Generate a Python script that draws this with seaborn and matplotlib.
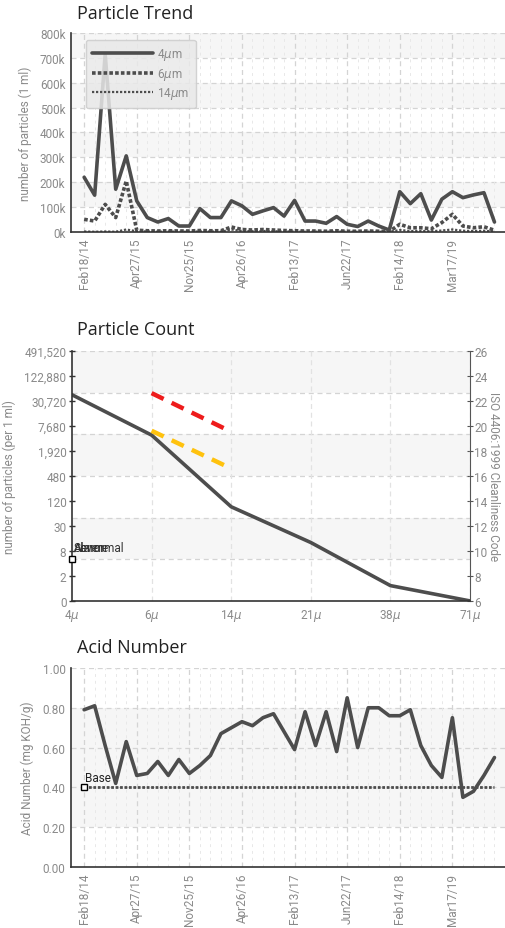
import numpy as np
import matplotlib
matplotlib.use("Agg")
import matplotlib.pyplot as plt
import seaborn as sns

# --- data ---
date_labels = ["Feb18/14", "Apr27/15", "Nov25/15", "Apr26/16",
               "Feb13/17", "Jun22/17", "Feb14/18", "Mar17/19"]

p4 = [220, 148, 715, 172, 306, 125, 58, 40, 54, 24,
      24, 94, 58, 58, 125, 105, 71, 85, 98, 64,
      127, 44, 44, 35, 62, 31, 22, 44, 24, 8,
      162, 114, 154, 48, 132, 162, 138, 149, 158, 40]
p6 = [51, 44, 111, 58, 205, 7, 5, 4, 5, 4,
      4, 6, 5, 5, 20, 10, 8, 10, 8, 6,
      5, 4, 4, 3, 5, 3, 3, 4, 3, 2,
      31, 17, 17, 13, 38, 71, 24, 17, 21, 7]
p14 = [2, 1, 2, 1, 10, 3, 2, 1, 2, 1,
       1, 2, 2, 1, 10, 4, 3, 4, 3, 2,
       2, 1, 1, 1, 2, 1, 1, 1, 1, 1,
       8, 4, 4, 3, 6, 10, 5, 4, 5, 2]

acid = [0.79, 0.81, 0.61, 0.42, 0.63, 0.46, 0.47, 0.53, 0.46, 0.54,
        0.47, 0.51, 0.56, 0.67, 0.70, 0.73, 0.71, 0.75, 0.77, 0.68,
        0.59, 0.78, 0.61, 0.78, 0.58, 0.85, 0.60, 0.80, 0.80, 0.76,
        0.76, 0.79, 0.61, 0.51, 0.45, 0.75, 0.35, 0.38, 0.46, 0.55]
acid_base = 0.40

sizes = ["4$\\mu$", "6$\\mu$", "14$\\mu$", "21$\\mu$", "38$\\mu$", "71$\\mu$"]
counts = [43400, 4630, 87, 12, 1.1, 0.47]
red_limit = [47500, 5580]      # at 6u, 14u
yellow_limit = [5900, 727]
count_ticks = [0.46875, 1.875, 7.5, 30, 120, 480, 1920, 7680, 30720, 122880, 491520]
count_tick_labels = ["0", "2", "8", "30", "120", "480", "1,920", "7,680",
                     "30,720", "122,880", "491,520"]
iso_ticks = [6, 8, 10, 12, 14, 16, 18, 20, 22, 24, 26]
alarm_labels = ["Severe", "Alarm", "Abnormal"]

sns.set_style("white")
plt.rcParams['font.family'] = ['DejaVu Sans']

LINE = "#4d4d4d"
TICK = "#8a8a8a"
BAND = "#f6f6f6"
GRID = "#d4d4d4"
NARROW = ["Roboto", "DejaVu Sans"]
TSIZE = 8.5

fig = plt.figure(figsize=(5.06, 9.29), dpi=100)
samples = np.arange(len(p4))
major = np.arange(0, len(p4), 5)


def narrow(labels, size=TSIZE):
    for lab in labels:
        lab.set_fontfamily(NARROW)
        lab.set_fontsize(size)


def style_ax(ax):
    for s in ["top", "right"]:
        ax.spines[s].set_visible(False)
    for s in ["left", "bottom"]:
        ax.spines[s].set_color("#333333")
        ax.spines[s].set_linewidth(1.2)
    ax.tick_params(axis="both", colors="#333333", length=4, width=1,
                   labelcolor=TICK, direction="inout", pad=2)
    narrow(ax.get_xticklabels() + ax.get_yticklabels())


def time_grid(ax):
    for i in samples:
        if i % 5 == 0:
            ax.axvline(i, color=GRID, ls=(0, (4, 3)), lw=0.9, zorder=0)
        else:
            ax.axvline(i, color="#e8e8e8", ls=(0, (3, 4)), lw=0.7, zorder=0)
    ax.set_xlim(-1.25, 40)
    ax.set_xticks(major)
    ax.set_xticklabels(date_labels, rotation=90)


# ---------------- Particle Trend ----------------
ax1 = fig.add_axes([0.1403, 0.7492, 0.8577, 0.2142])
for lo in [100, 300, 500, 700]:
    ax1.axhspan(lo, lo + 100, color=BAND, zorder=0, lw=0)
for v in range(100, 801, 100):
    ax1.axhline(v, color=GRID, ls=(0, (4, 3)), lw=0.9, zorder=0)
time_grid(ax1)
sns.lineplot(x=samples, y=p4, ax=ax1, color=LINE, lw=2.6, label="4$\\mu$m")
sns.lineplot(x=samples, y=p6, ax=ax1, color=LINE, lw=2.6,
             linestyle=(0, (1, 0.6)), label="6$\\mu$m")
sns.lineplot(x=samples, y=p14, ax=ax1, color=LINE, lw=1.6,
             linestyle=(0, (1, 0.8)), label="14$\\mu$m")
ax1.set_ylim(0, 800)
ax1.set_yticks(range(0, 801, 100))
ax1.set_yticklabels([f"{v}k" for v in range(0, 801, 100)])
ax1.set_ylabel("number of particles (1 ml)", fontsize=TSIZE, color=TICK,
               family=NARROW, labelpad=6)
leg = ax1.legend(loc="upper left", bbox_to_anchor=(0.02, 0.995), frameon=True,
                 fontsize=TSIZE, handlelength=5.2, labelspacing=0.3,
                 borderpad=0.55, handletextpad=0.3, fancybox=True)
leg.get_frame().set_facecolor("#e9e9e9")
leg.get_frame().set_edgecolor("#cccccc")
leg.get_frame().set_alpha(0.85)
for t in leg.get_texts():
    t.set_color(TICK)
    t.set_fontfamily(NARROW)
style_ax(ax1)
fig.text(77 / 506, 1 - 14 / 929, "Particle Trend", fontsize=13,
         family=["Open Sans", "DejaVu Sans"], color="#222222", va="center")

# ---------------- Particle Count ----------------
ax2 = fig.add_axes([0.1423, 0.352, 0.7866, 0.2691])
ax2r = ax2.twinx()
ax2.set_zorder(ax2r.get_zorder() + 1)
ax2.patch.set_visible(False)
for top in [26, 19 + 1 / 3, 12 + 2 / 3]:
    ax2r.axhspan(top - 10 / 3, top, color=BAND, zorder=0, lw=0)
for k in range(1, 7):
    ax2r.axhline(6 + k * 10 / 3, color=GRID, ls=(0, (4, 3)), lw=0.9, zorder=0)
pos = np.arange(len(sizes))
for p in pos[1:]:
    ax2.axvline(p, color="#e2e2e2", ls=(0, (4, 3)), lw=0.9, zorder=0)
sns.lineplot(x=pos, y=counts, ax=ax2, color=LINE, lw=2.6)
sns.lineplot(x=pos[1:3], y=red_limit, ax=ax2, color="#ee1c1c", lw=3.2,
             linestyle=(0, (3, 2)))
sns.lineplot(x=pos[1:3], y=yellow_limit, ax=ax2, color="#ffc20e", lw=3.2,
             linestyle=(0, (3, 2)))
ax2.set_yscale("log", base=2)
ax2.set_ylim(count_ticks[0], count_ticks[-1])
ax2.set_yticks(count_ticks)
ax2.set_yticklabels(count_tick_labels)
ax2.minorticks_off()
ax2.set_xlim(0, 5)
ax2.set_xticks(pos)
ax2.set_xticklabels(sizes)
ax2.set_ylabel("number of particles (per 1 ml)", fontsize=TSIZE, color=TICK,
               family=NARROW, labelpad=6)
ax2.plot([0], [4.7], marker="s", ms=5, mfc="white", mec="black", mew=1,
         clip_on=False, zorder=5)
# the reference draws these three labels on top of each other
for lbl in alarm_labels:
    ax2.text(0.02, 6.3, lbl, fontsize=8.5, color="#333333", va="bottom",
             family=NARROW)
style_ax(ax2)
ax2r.set_ylim(6, 26)
ax2r.set_yticks(iso_ticks)
ax2r.spines["right"].set_color("#555555")
for s in ["top", "left", "bottom"]:
    ax2r.spines[s].set_visible(False)
ax2r.tick_params(axis="y", colors="#555555", length=4, labelcolor=TICK,
                 direction="inout", pad=1)
narrow(ax2r.get_yticklabels())
ax2r.set_ylabel("ISO 4406:1999 Cleanliness Code", rotation=270, labelpad=9,
                fontsize=TSIZE, color=TICK, family=NARROW)
fig.text(77 / 506, 1 - 330 / 929, "Particle Count", fontsize=13,
         family=["Open Sans", "DejaVu Sans"], color="#222222", va="center")

# ---------------- Acid Number ----------------
ax3 = fig.add_axes([0.1403, 0.0657, 0.8577, 0.2142])
ax3.axhspan(0.2, 0.8, color=BAND, zorder=0, lw=0)
for v in [0.2, 0.4, 0.6, 0.8, 1.0]:
    ax3.axhline(v, color=GRID, ls=(0, (4, 3)), lw=0.9, zorder=0)
time_grid(ax3)
sns.lineplot(x=samples, y=[acid_base] * len(samples), ax=ax3, color=LINE,
             lw=2.0, linestyle=(0, (1, 0.6)))
sns.lineplot(x=samples, y=acid, ax=ax3, color=LINE, lw=2.6)
ax3.plot([0], [acid_base], marker="s", ms=5, mfc="white", mec="black",
         mew=1, zorder=5)
ax3.text(0.05, acid_base + 0.015, "Base", fontsize=TSIZE, color="#222222",
         va="bottom", family=NARROW)
ax3.set_ylim(0, 1)
ax3.set_yticks([0, 0.2, 0.4, 0.6, 0.8, 1.0])
ax3.set_yticklabels(["0.00", "0.20", "0.40", "0.60", "0.80", "1.00"])
ax3.set_ylabel("Acid Number (mg KOH/g)", fontsize=TSIZE, color=TICK,
               family=NARROW, labelpad=6)
style_ax(ax3)
fig.text(77 / 506, 1 - 648 / 929, "Acid Number", fontsize=13,
         family=["Open Sans", "DejaVu Sans"], color="#222222", va="center")

fig.savefig("out.png", dpi=100)
